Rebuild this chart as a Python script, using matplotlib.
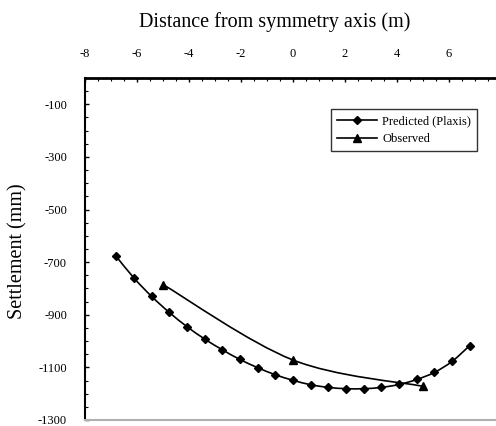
import numpy as np
import matplotlib
matplotlib.use("Agg")
import matplotlib.pyplot as plt
from matplotlib.path import Path
from matplotlib.patches import PathPatch
from matplotlib.lines import Line2D
from matplotlib.ticker import MultipleLocator, FixedLocator

plt.rcParams["font.family"] = ["Liberation Serif", "DejaVu Serif"]
plt.rcParams["axes.unicode_minus"] = False

# Predicted settlement (Plaxis)
pred_x = [-6.8, -6.12, -5.44, -4.76, -4.08, -3.40, -2.72, -2.04, -1.36, -0.68, 0.0,
          0.68, 1.36, 2.04, 2.72, 3.40, 4.08, 4.76, 5.44, 6.12, 6.80]
pred_y = [-678, -760, -830, -891, -945, -992, -1033, -1070, -1101, -1128, -1149,
          -1166, -1176, -1181, -1181, -1176, -1165, -1146, -1119, -1077, -1017]

# Observed settlement
obs_x = [-5.0, 0.0, 5.0]
obs_y = [-785, -1072, -1172]

x_major = [-8, -6, -4, -2, 0, 2, 4, 6]
y_major = [-1300, -1100, -900, -700, -500, -300, -100]


def smooth_path(ax, xs, ys):
    # Excel-style smoothed line (Catmull-Rom as cubic Bezier segments)
    pts = ax.transData.transform(np.column_stack([xs, ys]))
    verts = [pts[0]]
    codes = [Path.MOVETO]
    n = len(pts)
    for i in range(n - 1):
        p0 = pts[i - 1] if i > 0 else pts[i]
        p1 = pts[i]
        p2 = pts[i + 1]
        p3 = pts[i + 2] if i + 2 < n else pts[i + 1]
        c1 = p1 + (p2 - p0) / 6.0
        c2 = p2 - (p3 - p1) / 6.0
        verts += [c1, c2, p2]
        codes += [Path.CURVE4] * 3
    verts = ax.transData.inverted().transform(np.array(verts))
    return Path(verts, codes)


fig = plt.figure(figsize=(4.96, 4.26), dpi=100)
ax = fig.add_axes([85 / 496, 6 / 426, 416 / 496, 342 / 426])
ax.set_xlim(-8, 8)
ax.set_ylim(-1300, 0)

ax.xaxis.tick_top()
ax.xaxis.set_major_locator(FixedLocator(x_major))
ax.xaxis.set_minor_locator(MultipleLocator(0.5))
ax.yaxis.set_major_locator(FixedLocator(y_major))
ax.yaxis.set_minor_locator(MultipleLocator(50))
ax.tick_params(axis="x", which="both", direction="in", labelsize=9, pad=13)
ax.tick_params(axis="y", which="both", direction="in", labelsize=9, pad=13)
ax.tick_params(which="major", length=3, width=1)
ax.tick_params(which="minor", length=2, width=0.8)

ax.spines["right"].set_visible(False)
ax.spines["top"].set_linewidth(2)
ax.spines["left"].set_linewidth(1.5)
ax.spines["bottom"].set_color("#b0b0b0")
ax.spines["bottom"].set_linewidth(1.5)

fig.canvas.draw()
ax.add_patch(PathPatch(smooth_path(ax, pred_x, pred_y), fill=False, lw=1.2, color="black"))
ax.add_patch(PathPatch(smooth_path(ax, obs_x, obs_y), fill=False, lw=1.2, color="black"))
ax.plot(pred_x, pred_y, linestyle="none", marker="D", ms=4.5, color="black")
ax.plot(obs_x, obs_y, linestyle="none", marker="^", ms=6, color="black")

handles = [
    Line2D([], [], color="black", lw=1.2, marker="D", ms=4),
    Line2D([], [], color="black", lw=1.2, marker="^", ms=5.5),
]
leg = fig.legend(handles, ["Predicted (Plaxis)", "Observed"],
                 loc="upper left", bbox_to_anchor=(331 / 496, 1 - 109 / 426),
                 fontsize=9, frameon=True, fancybox=False, handlelength=3.2,
                 borderpad=0.5, labelspacing=0.45, handletextpad=0.4,
                 borderaxespad=0)
leg.get_frame().set_edgecolor("black")
leg.get_frame().set_linewidth(1)

fig.text(275 / 496, 1 - 22 / 426, "Distance from symmetry axis (m)",
         ha="center", va="center", fontsize=14.5)
fig.text(18 / 496, 1 - 251 / 426, "Settlement (mm)", rotation=90,
         ha="center", va="center", fontsize=14.5)

fig.savefig("out.png", dpi=100)
